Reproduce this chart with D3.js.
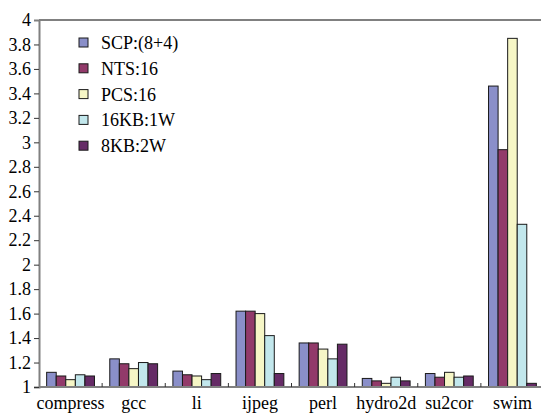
<!DOCTYPE html>
<html><head><meta charset="utf-8">
<script src="https://cdn.jsdelivr.net/npm/d3@7"></script>
<style>body{margin:0;background:#fff}svg{display:block}</style>
</head><body><svg id="c" width="541" height="414"></svg>
<script>
const categories = ["compress","gcc","li","ijpeg","perl","hydro2d","su2cor","swim"];
const seriesNames = ["SCP:(8+4)","NTS:16","PCS:16","16KB:1W","8KB:2W"];
const seriesColors = ["#8a8fc9","#923a6a","#f6f6c6","#c2e7ec","#652b66"];
const scp   = [1.12,1.23,1.13,1.62,1.36,1.07,1.11,3.46];
const nts   = [1.09,1.19,1.10,1.62,1.36,1.05,1.08,2.94];
const pcs   = [1.06,1.15,1.09,1.60,1.31,1.03,1.12,3.85];
const kb16  = [1.10,1.20,1.06,1.42,1.23,1.08,1.08,2.33];
const kb8   = [1.09,1.19,1.11,1.11,1.35,1.05,1.09,1.03];
const yTicks = [1,1.2,1.4,1.6,1.8,2,2.2,2.4,2.6,2.8,3,3.2,3.4,3.6,3.8,4];
const series = [scp,nts,pcs,kb16,kb8];

const svg = d3.select("#c");
const L = 39, R = 544, T = 20, B = 387;
const x0 = d3.scaleBand().domain(categories).range([L,R]).paddingInner(0).paddingOuter(0);
const x1 = d3.scaleBand().domain(d3.range(series.length)).range([0,x0.bandwidth()]).paddingOuter(0.8).paddingInner(0);
const y = d3.scaleLinear().domain([1,4]).range([B,T]);

function styleText(sel){
  return sel.attr("font-family","Times New Roman").attr("font-size",18)
    .style("font-family",'"Times New Roman"').style("font-size","18px").attr("fill","#000");
}

// bars
categories.forEach((c,i)=>{
  const g = svg.append("g").attr("transform",`translate(${x0(c)},0)`);
  series.forEach((s,j)=>{
    g.append("rect").attr("x",x1(j)).attr("width",x1.bandwidth())
      .attr("y",y(s[i])).attr("height",y(1)-y(s[i]))
      .attr("fill",seriesColors[j]).attr("stroke","#1a1a1a").attr("stroke-width",1);
  });
});

// top border
svg.append("line").attr("x1",L).attr("x2",R).attr("y1",T).attr("y2",T).attr("stroke","#808080").attr("stroke-width",2);

// y axis
const ya = svg.append("g").attr("transform",`translate(${L},0)`)
  .call(d3.axisLeft(y).tickValues(yTicks).tickSize(5).tickPadding(3).tickFormat(d=>d3.format("")(+d.toFixed(1))));
ya.attr("font-family",null).attr("font-size",null);
ya.select(".domain").attr("stroke","#808080").attr("stroke-width",2);
ya.selectAll(".tick line").attr("stroke","#333").attr("stroke-width",1);
ya.selectAll(".tick").filter(d=>d===4).select("line").remove();
styleText(ya.selectAll("text"));

// x axis
const xa = svg.append("g").attr("transform",`translate(0,${B})`);
xa.append("line").attr("x1",L).attr("x2",R).attr("stroke","#808080").attr("stroke-width",2);
categories.slice(1).forEach(c=>{
  xa.append("line").attr("x1",x0(c)).attr("x2",x0(c)).attr("y1",0).attr("y2",-4).attr("stroke","#333").attr("stroke-width",1);
});
categories.forEach(c=>{
  styleText(xa.append("text").attr("x",x0(c)+x0.bandwidth()/2).attr("y",22).attr("text-anchor","middle")).text(c);
});

// legend
const lg = svg.append("g").attr("transform","translate(79,38)");
seriesNames.forEach((n,j)=>{
  const gy = j*25.8;
  lg.append("rect").attr("x",0).attr("y",gy).attr("width",9).attr("height",9)
    .attr("fill",seriesColors[j]).attr("stroke","#1a1a1a").attr("stroke-width",1);
  styleText(lg.append("text").attr("x",22).attr("y",gy+11)).text(n);
});
</script></body></html>
